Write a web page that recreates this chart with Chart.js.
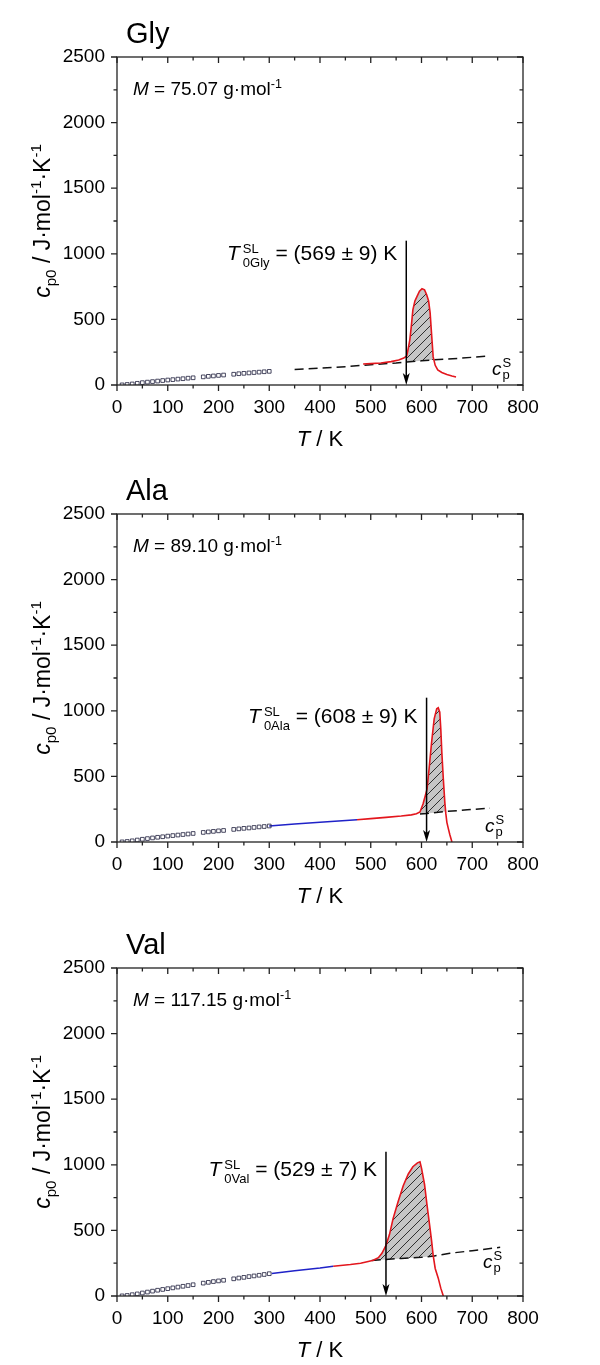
<!DOCTYPE html>
<html>
<head>
<meta charset="utf-8">
<script src="https://cdn.jsdelivr.net/npm/chart.js@4.4.1/dist/chart.umd.min.js"></script>
<style>
  body { margin: 0; background: #fff; }
  #wrap { position: relative; width: 600px; height: 1365px; }
  canvas { position: absolute; left: 0; }
</style>
</head>
<body>
<div id="wrap">
  <canvas id="c1" width="600" height="455" style="top:0px"></canvas>
  <canvas id="c2" width="600" height="455" style="top:457px"></canvas>
  <canvas id="c3" width="600" height="455" style="top:911px"></canvas>
</div>
<script>
// axis ticks
const xTicks = [0, 100, 200, 300, 400, 500, 600, 700, 800];
const xMinor = [50, 150, 250, 350, 450, 550, 650, 750];
const yTicks = [0, 500, 1000, 1500, 2000, 2500];
const yMinor = [250, 750, 1250, 1750, 2250];

// Gly
const glySqT  = [10, 20, 30, 40, 50, 60, 70, 80, 90, 100, 110, 120, 130, 140, 150, 170, 180, 190, 200, 210, 230, 240, 250, 260, 270, 280, 290, 300];
const glySqCp = [1, 4, 8, 13, 18, 22, 26, 30, 34, 38, 41, 45, 48, 52, 55, 62, 66, 69, 73, 76, 82, 86, 89, 92, 95, 98, 101, 104];
const glyRedT  = [485, 500, 520, 540, 555, 565, 571, 574, 577, 580, 583, 587, 591, 596, 601, 606, 610, 614, 617, 620, 623, 627, 632, 640, 650, 660, 668];
const glyRedCp = [160, 163, 168, 178, 190, 205, 222, 280, 344, 450, 573, 640, 673, 715, 734, 725, 690, 640, 550, 380, 214, 150, 115, 95, 80, 68, 61];
const glyDashT  = [350, 400, 450, 500, 550, 571, 600, 625, 680, 735];
const glyDashCp = [118, 128, 140, 155, 168, 176, 184, 192, 205, 222];

// Ala
const alaSqT  = [10, 20, 30, 40, 50, 60, 70, 80, 90, 100, 110, 120, 130, 140, 150, 170, 180, 190, 200, 210, 230, 240, 250, 260, 270, 280, 290, 300];
const alaSqCp = [1, 4, 9, 15, 21, 26, 31, 36, 40, 45, 49, 53, 57, 61, 65, 73, 77, 81, 85, 88, 96, 100, 104, 107, 111, 115, 118, 122];
const alaBlueT  = [300, 350, 400, 473];
const alaBlueCp = [122, 137, 151, 170];
const alaRedT  = [473, 500, 530, 560, 580, 590, 597, 603, 608, 611, 615, 620, 625, 630, 633, 636, 638, 640, 643, 646, 648, 650, 653, 656, 660];
const alaRedCp = [170, 178, 188, 198, 207, 215, 229, 290, 360, 405, 560, 763, 939, 1015, 1023, 990, 862, 687, 480, 300, 214, 150, 100, 53, 0];
const alaDashT  = [597, 611, 647, 690, 735];
const alaDashCp = [214, 218, 232, 245, 258];

// Val
const valSqT  = [10, 20, 30, 40, 50, 60, 70, 80, 90, 100, 110, 120, 130, 140, 150, 170, 180, 190, 200, 210, 230, 240, 250, 260, 270, 280, 290, 300];
const valSqCp = [1, 4, 10, 16, 23, 30, 37, 44, 50, 56, 62, 68, 74, 80, 86, 98, 104, 110, 115, 120, 131, 137, 142, 148, 153, 158, 164, 170];
const valBlueT  = [305, 350, 400, 426];
const valBlueCp = [172, 192, 213, 227];
const valRedT  = [426, 460, 480, 495, 505, 515, 522, 530, 537, 544, 554, 564, 574, 583, 592, 597, 600, 606, 611, 616, 620, 623, 627, 633, 638, 643];
const valRedCp = [227, 240, 250, 263, 272, 292, 325, 386, 470, 590, 720, 840, 930, 985, 1015, 1023, 975, 850, 690, 540, 417, 310, 210, 136, 60, 0];
const valDashT  = [502, 530, 560, 600, 625, 656, 700, 755];
const valDashCp = [270, 279, 286, 295, 305, 326, 345, 371];

// melting temperatures and labels
const names  = ['Gly', 'Ala', 'Val'];
const masses = ['75.07', '89.10', '117.15'];
const tmText = ['(569 ± 9) K', '(608 ± 9) K', '(529 ± 7) K'];
const arrowT = [570, 610, 530];
const fillFrom = [571, 597, 502];
const fillTo   = [625, 647, 625];

const FAM = '"Liberation Sans", Arial, sans-serif';
function fontOf(size, italic) {
  return (italic ? 'italic ' : '') + size + 'px ' + FAM;
}

function pts(xs, ys) {
  return xs.map((x, i) => ({x: x, y: ys[i]}));
}

function hatch() {
  const c = document.createElement('canvas');
  c.width = 9; c.height = 9;
  const g = c.getContext('2d');
  g.fillStyle = '#c6c6c6';
  g.fillRect(0, 0, 9, 9);
  g.strokeStyle = '#1e1e1e';
  g.lineWidth = 0.9;
  g.beginPath();
  g.moveTo(0, 9); g.lineTo(9, 0);
  g.moveTo(-1, 1); g.lineTo(1, -1);
  g.moveTo(8, 10); g.lineTo(10, 8);
  g.stroke();
  return g.createPattern(c, 'repeat');
}

// text with italic / sub / sup / stacked parts
function rich(ctx, parts, x, y, size, align) {
  ctx.save();
  let w = 0;
  const items = [];
  for (const p of parts) {
    if (p.up !== undefined) {
      ctx.font = fontOf(p.fs, false);
      const ww = Math.max(ctx.measureText(p.up).width, ctx.measureText(p.dn).width);
      items.push({x: w + (p.gap || 0), p: p});
      w += (p.gap || 0) + ww;
    } else {
      const fs = p.s ? size * 0.66 : size;
      ctx.font = fontOf(fs, p.i);
      items.push({x: w, p: p, fs: fs});
      w += ctx.measureText(p.t).width;
    }
  }
  const x0 = align === 'right' ? x - w : align === 'center' ? x - w / 2 : x;
  ctx.fillStyle = '#000';
  ctx.textAlign = 'left';
  ctx.textBaseline = 'alphabetic';
  for (const it of items) {
    const p = it.p;
    if (p.up !== undefined) {
      ctx.font = fontOf(p.fs, false);
      ctx.fillText(p.up, x0 + it.x, y + p.upDy);
      ctx.fillText(p.dn, x0 + it.x, y + p.dnDy);
    } else {
      ctx.font = fontOf(it.fs, p.i);
      const dy = p.s === 'sub' ? size * 0.25 : p.s === 'sup' ? -size * 0.38 : 0;
      ctx.fillText(p.t, x0 + it.x, y + dy);
    }
  }
  ctx.restore();
}

function makeDecor(k) {
  return {
    id: 'decor' + k,
    afterDatasetsDraw(chart) {
      const ctx = chart.ctx;
      const a = chart.chartArea;
      const xs = chart.scales.x, ys = chart.scales.y;
      ctx.save();
      ctx.strokeStyle = '#222';
      ctx.lineWidth = 1.3;
      ctx.strokeRect(a.left, a.top, a.right - a.left, a.bottom - a.top);
      ctx.beginPath();
      const tick = (vals, len) => {
        vals.forEach(v => {
          const px = xs.getPixelForValue(v);
          ctx.moveTo(px, a.bottom); ctx.lineTo(px, a.bottom + len);
          ctx.moveTo(px, a.top); ctx.lineTo(px, a.top + len);
        });
      };
      const tickY = (vals, len) => {
        vals.forEach(v => {
          const py = ys.getPixelForValue(v);
          ctx.moveTo(a.left, py); ctx.lineTo(a.left - len, py);
          ctx.moveTo(a.right, py); ctx.lineTo(a.right - len, py);
        });
      };
      tick(xTicks, 6); tick(xMinor, 3.5);
      tickY(yTicks, 6); tickY(yMinor, 3.5);
      ctx.stroke();

      // arrow
      const ax = xs.getPixelForValue(arrowT[k]);
      const aTop = ys.getPixelForValue(1100);
      const aBot = ys.getPixelForValue(0);
      ctx.strokeStyle = '#000';
      ctx.lineWidth = 1.5;
      ctx.beginPath();
      ctx.moveTo(ax, aTop); ctx.lineTo(ax, aBot - 8);
      ctx.stroke();
      ctx.fillStyle = '#000';
      ctx.beginPath();
      ctx.moveTo(ax, aBot);
      ctx.lineTo(ax - 3.5, aBot - 12);
      ctx.lineTo(ax, aBot - 9);
      ctx.lineTo(ax + 3.5, aBot - 12);
      ctx.closePath();
      ctx.fill();
      ctx.restore();

      // panel title and mass
      ctx.save();
      ctx.fillStyle = '#000';
      ctx.font = fontOf(29, false);
      ctx.fillText(names[k], a.left + 9, a.top - 14);
      ctx.restore();
      rich(ctx, [{t: 'M', i: true}, {t: ' = ' + masses[k] + ' g·mol'}, {t: '-1', s: 'sup'}],
        a.left + 16, a.top + 38, 19, 'left');

      // melting label
      const labCp = [950, 905, 917][k];
      rich(ctx, [{t: 'T', i: true},
                 {up: 'SL', dn: '0' + names[k], fs: 13, upDy: -7, dnDy: 7, gap: 3},
                 {t: ' = ' + tmText[k]}],
        ax - 9, ys.getPixelForValue(labCp), 21, 'right');

      // c_p^S label
      const cpsT = [739, 725, 721][k];
      const cpsCp = [76, 76, 212][k];
      rich(ctx, [{t: 'c', i: true}, {up: 'S', dn: 'p', fs: 13, upDy: -8, dnDy: 4, gap: 1}],
        xs.getPixelForValue(cpsT), ys.getPixelForValue(cpsCp), 19, 'left');

      // axis titles
      rich(ctx, [{t: 'T', i: true}, {t: ' / K'}], (a.left + a.right) / 2, a.bottom + 61, 22, 'center');
      ctx.save();
      ctx.translate(50, (a.top + a.bottom) / 2);
      ctx.rotate(-Math.PI / 2);
      rich(ctx, [{t: 'c', i: true}, {t: 'p0', s: 'sub'}, {t: ' / J·mol'}, {t: '-1', s: 'sup'},
                 {t: '·K'}, {t: '-1', s: 'sup'}], 0, 0, 23, 'center');
      ctx.restore();
    }
  };
}

function polygon(redT, redCp, dashT, dashCp, from, to) {
  const upper = pts(redT, redCp).filter(p => p.x >= from && p.x <= to);
  const lower = pts(dashT, dashCp).filter(p => p.x >= from && p.x <= to).reverse();
  return upper.concat(lower);
}

const series = [
  {sqT: glySqT, sqCp: glySqCp, blueT: [], blueCp: [], redT: glyRedT, redCp: glyRedCp, dashT: glyDashT, dashCp: glyDashCp},
  {sqT: alaSqT, sqCp: alaSqCp, blueT: alaBlueT, blueCp: alaBlueCp, redT: alaRedT, redCp: alaRedCp, dashT: alaDashT, dashCp: alaDashCp},
  {sqT: valSqT, sqCp: valSqCp, blueT: valBlueT, blueCp: valBlueCp, redT: valRedT, redCp: valRedCp, dashT: valDashT, dashCp: valDashCp}
];

const tickFont = {family: FAM, size: 19};

series.forEach((s, k) => {
  new Chart(document.getElementById('c' + (k + 1)), {
    type: 'scatter',
    data: {
      datasets: [
        {data: pts(s.sqT, s.sqCp), pointStyle: 'rect', pointRadius: 2.6, borderWidth: 0.8,
         borderColor: '#1c1c3a', backgroundColor: 'rgba(255,255,255,0)'},
        {data: pts(s.blueT, s.blueCp), showLine: true, pointRadius: 0, borderColor: '#1f22c8', borderWidth: 1.6},
        {data: pts(s.redT, s.redCp), showLine: true, pointRadius: 0, borderColor: '#e3161d', borderWidth: 1.6},
        {data: pts(s.dashT, s.dashCp), showLine: true, pointRadius: 0, borderColor: '#111', borderWidth: 1.5,
         borderDash: [9, 5]},
        {data: polygon(s.redT, s.redCp, s.dashT, s.dashCp, fillFrom[k], fillTo[k]), showLine: true,
         pointRadius: 0, borderWidth: 0, borderColor: 'rgba(0,0,0,0)', backgroundColor: hatch(), fill: 'shape'}
      ]
    },
    options: {
      responsive: false,
      animation: false,
      layout: {padding: {top: 57, right: 77, left: 0, bottom: 0}},
      plugins: {legend: {display: false}, tooltip: {enabled: false}},
      scales: {
        x: {
          type: 'linear', min: 0, max: 800,
          afterBuildTicks: sc => { sc.ticks = xTicks.map(v => ({value: v})); },
          afterFit: sc => { sc.height = 70; },
          grid: {display: false}, border: {display: false},
          ticks: {font: tickFont, color: '#000', padding: 3, maxRotation: 0, autoSkip: false,
                  callback: v => String(v)}
        },
        y: {
          type: 'linear', min: 0, max: 2500,
          afterBuildTicks: sc => { sc.ticks = yTicks.map(v => ({value: v})); },
          afterFit: sc => { sc.width = 117; },
          grid: {display: false}, border: {display: false},
          ticks: {font: tickFont, color: '#000', padding: 4, autoSkip: false,
                  callback: v => String(v)}
        }
      }
    },
    plugins: [makeDecor(k)]
  });
});
</script>
</body>
</html>
